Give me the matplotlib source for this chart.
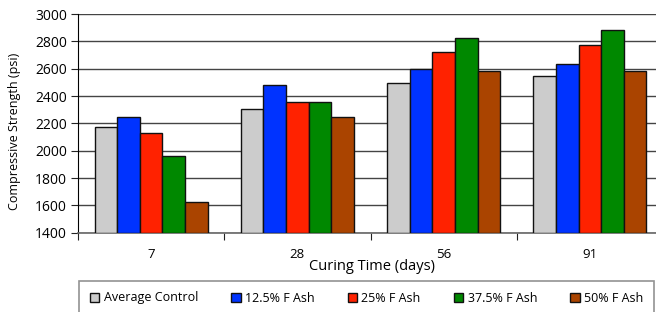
import matplotlib
matplotlib.use("Agg")
import matplotlib.pyplot as plt
import numpy as np
from matplotlib.patches import Patch

categories = ["7", "28", "56", "91"]
series_names = ["Average Control", "12.5% F Ash", "25% F Ash", "37.5% F Ash", "50% F Ash"]
avg_control = [2175, 2307, 2498, 2546]
fa_12_5 = [2244, 2481, 2595, 2632]
fa_25 = [2127, 2356, 2720, 2771]
fa_37_5 = [1961, 2356, 2827, 2885]
fa_50 = [1622, 2249, 2581, 2581]
colors = ["#CCCCCC", "#0033FF", "#FF2200", "#008800", "#AA4400"]

plt.rcParams['font.family'] = ['Open Sans', 'DejaVu Sans']

fig = plt.figure(figsize=(6.56, 3.12), dpi=100)
ax = fig.add_axes([78/656, (312-232.7)/312, (663-78)/656, (232.7-14)/312])

series = [avg_control, fa_12_5, fa_25, fa_37_5, fa_50]
x = np.arange(len(categories))
bw = 0.1545
for i, (vals, c) in enumerate(zip(series, colors)):
    ax.bar(x + (i - 2) * bw, np.array(vals) - 1400, bottom=1400, width=bw,
           color=c, edgecolor="#111111", linewidth=1.0, zorder=3)

ax.set_ylim(1400, 3000)
ax.set_xlim(-0.5, 3.5)
ax.set_yticks(np.arange(1400, 3001, 200))
ax.yaxis.grid(True, color="#444444", linewidth=1.0, zorder=0)
ax.set_axisbelow(True)

ax.set_xticks(np.arange(-0.5, 3.6, 1.0))
ax.set_xticklabels([])
ax.set_xticks(x, minor=True)
ax.set_xticklabels(categories, minor=True, fontsize=9.5)
ax.tick_params(axis='x', which='minor', length=0, pad=11)
ax.tick_params(axis='x', which='major', length=5, direction='out', color="#222222")
ax.tick_params(axis='y', length=5, direction='out', labelsize=10, color="#222222", pad=3)

for s in ["top", "right"]:
    ax.spines[s].set_visible(False)
ax.spines["left"].set_color("#000000")
ax.spines["bottom"].set_color("#666666")
ax.spines["bottom"].set_linewidth(1.2)

fig.text(15/656, (312-131)/312, "Compressive Strength (psi)", rotation=90,
         ha="center", va="center", fontsize=9)
fig.text(372/656, (312-267)/312, "Curing Time (days)", ha="center", va="center", fontsize=10.5)

handles = [Patch(facecolor=c, edgecolor="#111111", linewidth=1.0) for c in colors]
leg = fig.legend(handles, series_names, ncol=5,
                 bbox_to_anchor=(366.5/656, 14/312),
                 loc="center", fontsize=9, handlelength=0.75, handleheight=0.75,
                 handletextpad=0.35, columnspacing=2.65, borderaxespad=0, fancybox=False,
                 frameon=True, edgecolor="#777777", borderpad=0.85)
leg.get_frame().set_linewidth(1.2)

fig.savefig("out.png", dpi=100)
